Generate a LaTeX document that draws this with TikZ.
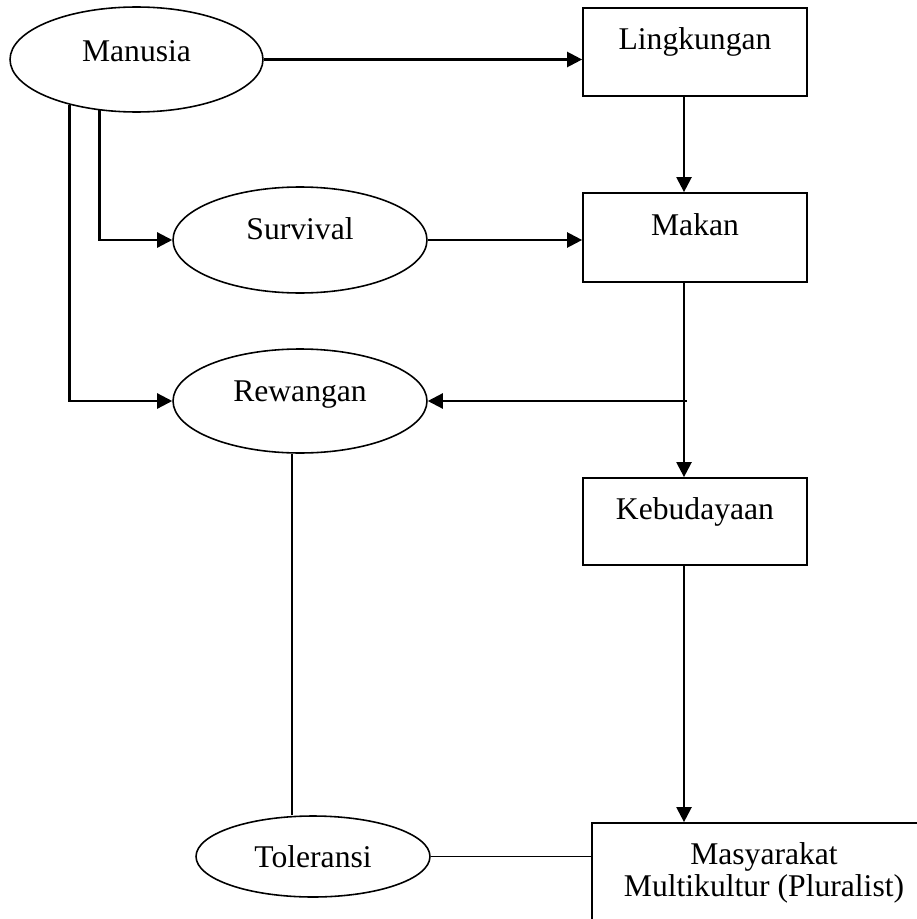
\documentclass[tikz,border=0pt]{standalone}
\usepackage{fontspec}
\setmainfont{Liberation Serif}
\usetikzlibrary{shapes.geometric,arrows.meta,calc}

\begin{document}
\begin{tikzpicture}[x=0.02cm,y=-0.02cm,
    every node/.style={font=\fontsize{18}{18.5}\selectfont,inner sep=0pt},
    oval/.style={draw,ellipse,line width=0.9pt},
    kotak/.style={draw,rectangle,line width=1pt,minimum width=4.48cm},
    naik/.style={text height=13pt,text depth=#1},
    panah/.style={-{Triangle[length=0.3cm,width=0.3cm]},line width=1.3pt},
    garis/.style={line width=0.9pt}]
\useasboundingbox (0,0) rectangle (916,919);

% ellipses on the left
\node[oval,naik=10.6pt,minimum width=5.06cm,minimum height=2.1cm] (manusia) at (136.5,59.5) {Manusia};
\node[oval,naik=13.4pt,minimum width=5.08cm,minimum height=2.12cm] (survival) at (300,240) {Survival};
\node[oval,naik=12pt,minimum width=5.08cm,minimum height=2.08cm] (rewangan) at (300,401) {Rewangan};
\node[oval,minimum width=4.68cm,minimum height=1.62cm] (toleransi) at (313,856.5) {Toleransi};

% boxes on the right
\node[kotak,naik=15.6pt,minimum height=1.76cm] (lingkungan) at (695,52) {Lingkungan};
\node[kotak,naik=15.6pt,minimum height=1.78cm] (makan) at (695,237.5) {Makan};
\node[kotak,naik=15.6pt,minimum height=1.74cm] (kebudayaan) at (695,521.5) {Kebudayaan};
\node[kotak,align=center,minimum width=6.88cm,minimum height=2cm] (masyarakat) at (764,873)
    {Masyarakat\\Multikultur (Pluralist)};

\coordinate (kolom) at ([xshift=-0.22cm]makan.south);
\coordinate (tengah) at ([xshift=-0.16cm]rewangan.south);

\draw[panah] (manusia.east) -- (manusia.east -| lingkungan.west);
\draw[panah] ([xshift=-0.22cm]lingkungan.south) -- ([xshift=-0.22cm]makan.north);
\draw[panah] (manusia.234) |- (survival.west);
\draw[panah] (manusia.214) |- (rewangan.west);
\draw[panah] (survival.east) -- (survival.east -| makan.west);
\draw[panah] (kolom) -- ([xshift=-0.22cm]kebudayaan.north);
\draw[panah] ([xshift=0.05cm]kolom |- rewangan.east) -- (rewangan.east);
\draw[panah] ([xshift=-0.22cm]kebudayaan.south) -- ([xshift=-0.22cm]kebudayaan.south |- masyarakat.north);
\draw[garis] (tengah) -- (tengah |- toleransi.north);
\draw[garis] (toleransi.east) -- (toleransi.east -| masyarakat.west);
\end{tikzpicture}
\end{document}
